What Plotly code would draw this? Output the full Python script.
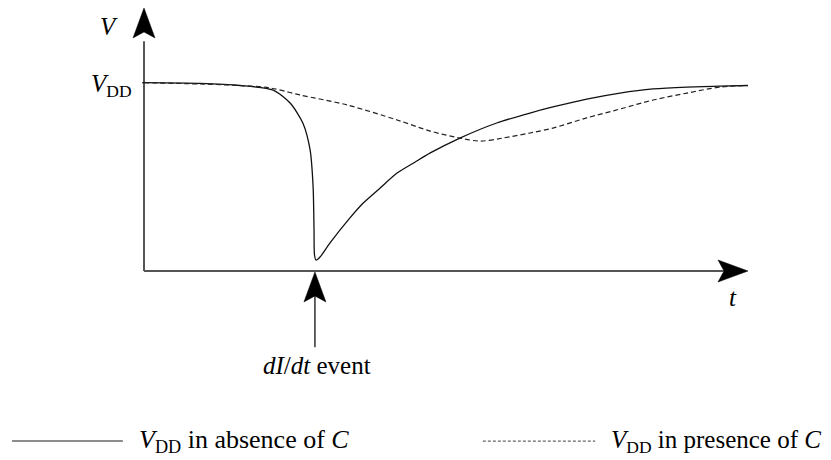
import plotly.graph_objects as go

# ---- data (t in arbitrary time units, V normalised so that V_DD = 1) ----
t_absent = [0.0, 0.93, 1.59, 2.14, 2.42, 2.63, 2.75, 2.80, 2.815, 2.823, 2.848, 2.914,
            3.08, 3.41, 3.63, 3.91, 4.19, 4.49, 4.74, 5.23, 5.84, 6.39, 6.77, 7.33, 7.88,
            8.43, 8.99, 9.54, 10.0]
v_absent = [1.0, 0.996, 0.985, 0.961, 0.892, 0.786, 0.643, 0.446, 0.218, 0.085, 0.058, 0.074,
            0.149, 0.282, 0.361, 0.441, 0.520, 0.579, 0.627, 0.706, 0.786, 0.839, 0.871, 0.913,
            0.945, 0.967, 0.977, 0.982, 0.985]

t_present = [0.0, 0.93, 1.59, 2.09, 2.58, 3.36, 4.19, 4.74, 5.23, 5.56, 5.94, 6.39,
             6.77, 7.33, 7.88, 8.43, 8.99, 9.54, 10.0]
v_present = [1.0, 0.993, 0.985, 0.972, 0.935, 0.882, 0.802, 0.743, 0.706, 0.690, 0.706, 0.733,
             0.759, 0.813, 0.860, 0.908, 0.945, 0.977, 0.985]

legend_labels = ["<i>V</i><sub>DD</sub> in absence of <i>C</i>",
                 "<i>V</i><sub>DD</sub> in presence of <i>C</i>"]
y_label = "<i>V</i>"
x_label = "<i>t</i>"
vdd_label = "<i>V</i><sub>DD</sub>"
event_label = "<i>dI</i>/<i>dt</i> event"
t_event = 2.83
v_dd = 1.0

FONT = "Liberation Serif"

# page body has an 8px margin -> figure is drawn 8px right/down
OFF = 8
W, H = 831 - OFF, 460 - OFF
X0PX, Y0PX = 144, 271          # origin in window pixels
SX, SY = 60.4, 188.3           # pixels per unit

fig = go.Figure()
fig.add_trace(go.Scatter(x=t_absent, y=v_absent, mode="lines",
                         line=dict(color="#111111", width=1.3, shape="spline", smoothing=0.7),
                         showlegend=False, hoverinfo="skip"))
fig.add_trace(go.Scatter(x=t_present, y=v_present, mode="lines",
                         line=dict(color="#222222", width=1.2, dash="5px,3px", shape="spline", smoothing=0.9),
                         showlegend=False, hoverinfo="skip"))

axis_col = "#555555"
shapes = []
shapes.append(dict(type="line", xref="x", yref="y", x0=0, y0=0, x1=0, y1=1.22,
                   line=dict(color=axis_col, width=2)))
shapes.append(dict(type="line", xref="x", yref="y", x0=0, y0=0, x1=9.6, y1=0,
                   line=dict(color=axis_col, width=2)))
shapes.append(dict(type="line", xref="x", yref="y", x0=-0.03, y0=v_dd, x1=0.02, y1=v_dd,
                   line=dict(color="#111111", width=1.3)))
up_head = "M0,0 L-11,-30 L0,-24 L11,-30 Z"
right_head = "M0,0 L-30,11 L-24,0 L-30,-11 Z"
shapes.append(dict(type="path", xref="x", yref="y", xsizemode="pixel", ysizemode="pixel",
                   xanchor=0, yanchor=1.397, path=up_head,
                   fillcolor="black", line=dict(color="black", width=0.5)))
shapes.append(dict(type="path", xref="x", yref="y", xsizemode="pixel", ysizemode="pixel",
                   xanchor=10.0, yanchor=0, path=right_head,
                   fillcolor="black", line=dict(color="black", width=0.5)))
shapes.append(dict(type="line", xref="x", yref="y", x0=t_event, y0=-0.405, x1=t_event, y1=-0.12,
                   line=dict(color="#111111", width=1.3)))
shapes.append(dict(type="path", xref="x", yref="y", xsizemode="pixel", ysizemode="pixel",
                   xanchor=t_event, yanchor=-0.005, path=up_head,
                   fillcolor="black", line=dict(color="black", width=0.5)))
shapes.append(dict(type="line", xref="x", yref="y", x0=-2.185, y0=-0.903, x1=-0.35, y1=-0.903,
                   line=dict(color="#666666", width=1.5)))
shapes.append(dict(type="line", xref="x", yref="y", x0=5.61, y0=-0.903, x1=7.47, y1=-0.903,
                   line=dict(color="#666666", width=1.3, dash="3px,2px")))

annotations = [
    dict(x=-0.58, y=1.30, text=y_label, showarrow=False, xanchor="center", yanchor="middle",
         font=dict(family=FONT, size=25, color="black")),
    dict(x=-0.17, y=0.985, text=vdd_label, showarrow=False, xanchor="right", yanchor="middle",
         font=dict(family=FONT, size=25, color="black")),
    dict(x=9.75, y=-0.14, text=x_label, showarrow=False, xanchor="center", yanchor="middle",
         font=dict(family=FONT, size=25, color="black")),
    dict(x=2.87, y=-0.50, text=event_label, showarrow=False, xanchor="center", yanchor="middle",
         font=dict(family=FONT, size=25, color="black")),
    dict(x=-0.12, y=-0.905, text=legend_labels[0], showarrow=False,
         xanchor="left", yanchor="middle", font=dict(family=FONT, size=26, color="black")),
    dict(x=7.70, y=-0.905, text=legend_labels[1], showarrow=False,
         xanchor="left", yanchor="middle", font=dict(family=FONT, size=25, color="black")),
]

fig.update_layout(
    width=W, height=H,
    margin=dict(l=0, r=0, t=0, b=0),
    paper_bgcolor="white", plot_bgcolor="white",
    xaxis=dict(range=[(OFF - X0PX) / SX, (OFF + W - X0PX) / SX], visible=False, fixedrange=True),
    yaxis=dict(range=[-(OFF + H - Y0PX) / SY, (Y0PX - OFF) / SY], visible=False, fixedrange=True),
    shapes=shapes, annotations=annotations,
    showlegend=False,
)

fig.write_html("out.html")
